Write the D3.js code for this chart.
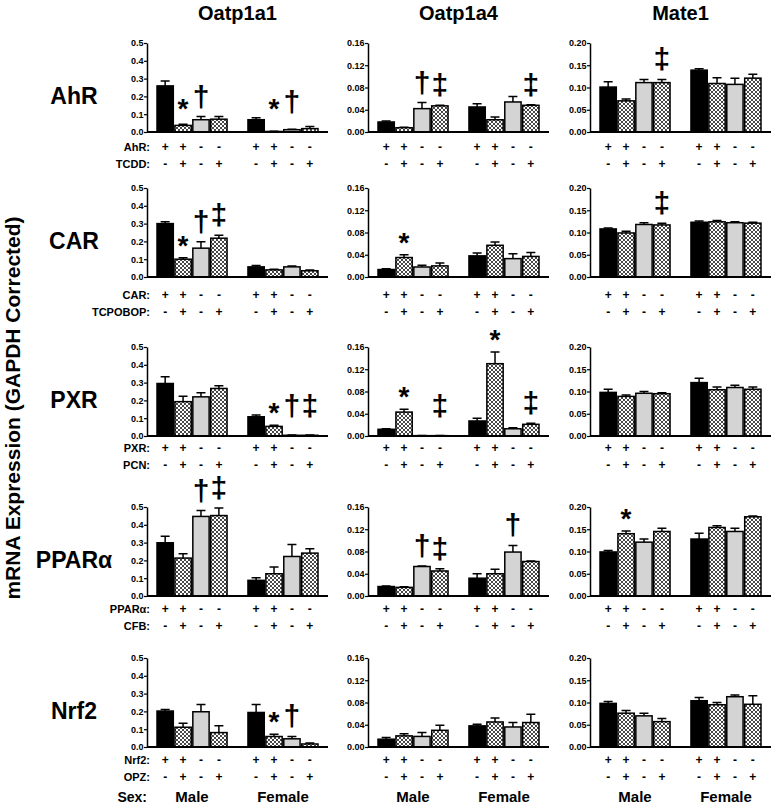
<!DOCTYPE html>
<html>
<head>
<meta charset="utf-8">
<script src="https://cdn.jsdelivr.net/npm/d3@7"></script>
<style>
  body { margin: 0; background: #fff; }
  text { font-family: "Liberation Sans", Arial, sans-serif; font-weight: bold; }
</style>
</head>
<body>
<svg id="chart" width="777" height="806"></svg>
<script>
// genes (columns) and receptors (rows)
const genes = ["Oatp1a1", "Oatp1a4", "Mate1"]
const receptors = ["AhR", "CAR", "PXR", "PPARα", "Nrf2"]
const ligands = ["TCDD", "TCPOBOP", "PCN", "CFB", "OPZ"]
const sexes = ["Male", "Female"]
const receptorSigns = ["+", "+", "-", "-"]
const ligandSigns = ["-", "+", "-", "+"]

// y axis max + tick values per gene
const yMax = [0.5, 0.16, 0.20]
const ticksOatp1a1 = [0, 0.1, 0.2, 0.3, 0.4, 0.5]
const ticksOatp1a4 = [0, 0.04, 0.08, 0.12, 0.16]
const ticksMate1 = [0, 0.05, 0.10, 0.15, 0.20]

// means, 8 per panel: male (+/-, +/+, -/-, -/+), female (same)
const ahrMeans = [
  [0.259, 0.037, 0.069, 0.072, 0.069, 0.003, 0.013, 0.019],
  [0.018, 0.0077, 0.042, 0.047, 0.045, 0.022, 0.054, 0.048],
  [0.101, 0.070, 0.111, 0.111, 0.139, 0.109, 0.107, 0.121]]
const ahrSem = [
  [0.028, 0.006, 0.018, 0.015, 0.011, 0.001, 0.002, 0.012],
  [0.002, 0.001, 0.011, 0.001, 0.006, 0.005, 0.010, 0.001],
  [0.012, 0.004, 0.007, 0.007, 0.003, 0.013, 0.014, 0.009]]
const carMeans = [
  [0.300, 0.100, 0.162, 0.218, 0.057, 0.040, 0.057, 0.035],
  [0.0134, 0.035, 0.018, 0.020, 0.038, 0.057, 0.033, 0.037],
  [0.108, 0.099, 0.118, 0.117, 0.123, 0.124, 0.122, 0.121]]
const carSem = [
  [0.010, 0.008, 0.036, 0.017, 0.008, 0.003, 0.005, 0.004],
  [0.0015, 0.005, 0.003, 0.005, 0.005, 0.006, 0.009, 0.007],
  [0.002, 0.004, 0.004, 0.004, 0.003, 0.003, 0.002, 0.002]]
const pxrMeans = [
  [0.295, 0.193, 0.220, 0.267, 0.108, 0.054, 0.004, 0.004],
  [0.012, 0.043, 0.0006, 0.0006, 0.027, 0.130, 0.013, 0.021],
  [0.098, 0.089, 0.096, 0.095, 0.120, 0.104, 0.109, 0.105]]
const pxrSem = [
  [0.038, 0.031, 0.023, 0.015, 0.010, 0.006, 0.001, 0.001],
  [0.001, 0.005, 0.0002, 0.0002, 0.005, 0.021, 0.002, 0.002],
  [0.007, 0.003, 0.004, 0.002, 0.010, 0.006, 0.005, 0.005]]
const pparMeans = [
  [0.299, 0.213, 0.447, 0.452, 0.088, 0.125, 0.222, 0.241],
  [0.017, 0.0155, 0.053, 0.045, 0.032, 0.040, 0.079, 0.062],
  [0.099, 0.140, 0.121, 0.145, 0.128, 0.154, 0.145, 0.178]]
const pparSem = [
  [0.037, 0.024, 0.033, 0.043, 0.015, 0.038, 0.068, 0.024],
  [0.001, 0.001, 0.001, 0.004, 0.008, 0.008, 0.012, 0.001],
  [0.003, 0.006, 0.007, 0.007, 0.013, 0.004, 0.007, 0.002]]
const nrf2Means = [
  [0.202, 0.111, 0.198, 0.081, 0.194, 0.059, 0.046, 0.017],
  [0.014, 0.020, 0.019, 0.030, 0.038, 0.045, 0.036, 0.044],
  [0.098, 0.076, 0.070, 0.057, 0.104, 0.095, 0.113, 0.096]]
const nrf2Sem = [
  [0.009, 0.022, 0.041, 0.039, 0.045, 0.013, 0.013, 0.005],
  [0.003, 0.004, 0.007, 0.009, 0.003, 0.007, 0.008, 0.015],
  [0.004, 0.006, 0.006, 0.007, 0.007, 0.005, 0.004, 0.019]]

// significance marks: [gene index, bar index, symbol]
const ahrMarks = [[0,1,"*"],[0,2,"†"],[0,5,"*"],[0,6,"†"],[1,2,"†"],[1,3,"‡"],[1,7,"‡"],[2,3,"‡"]]
const carMarks = [[0,1,"*"],[0,2,"†"],[0,3,"‡"],[1,1,"*"],[2,3,"‡"]]
const pxrMarks = [[0,5,"*"],[0,6,"†"],[0,7,"‡"],[1,1,"*"],[1,3,"‡"],[1,5,"*"],[1,7,"‡"]]
const pparMarks = [[0,2,"†"],[0,3,"‡"],[1,2,"†"],[1,3,"‡"],[1,6,"†"],[2,1,"*"]]
const nrf2Marks = [[0,5,"*"],[0,6,"†"]]

const allMeans = [ahrMeans, carMeans, pxrMeans, pparMeans, nrf2Means]
const allSem = [ahrSem, carSem, pxrSem, pparSem, nrf2Sem]
const allMarks = [ahrMarks, carMarks, pxrMarks, pparMarks, nrf2Marks]
const allTicks = [ticksOatp1a1, ticksOatp1a4, ticksMate1]

// layout
const colX = [147, 368, 590]
const rowBase = [132, 277, 436, 596, 747]
const signOff = [15, 18, 12, 13, 13]
const panelW = 181
const panelH = 89

const svg = d3.select("#chart")

// checker pattern for ligand-treated bars
const pat = svg.append("defs").append("pattern")
  .attr("id", "checks")
  .attr("patternUnits", "userSpaceOnUse")
  .attr("width", 4).attr("height", 4)
pat.append("rect").attr("width", 4).attr("height", 4).attr("fill", "#000")
pat.selectAll("circle").data([[2,2],[0,0],[4,0],[0,4],[4,4]]).enter()
  .append("circle").attr("cx", d => d[0]).attr("cy", d => d[1]).attr("r", 1.35).attr("fill", "#fff")

const fills = ["#000", "url(#checks)", "#d4d4d4", "url(#checks)"]

// group + bar scales (same for each panel)
const xGroup = d3.scaleBand().domain(sexes).range([0, panelW]).paddingInner(0.23).paddingOuter(0.11)
const xBar = d3.scaleBand().domain(d3.range(4)).range([0, xGroup.bandwidth()]).paddingInner(0.09)
const barX = i => xGroup(sexes[Math.floor(i / 4)]) + xBar(i % 4)

// titles
svg.selectAll(".title").data(genes).enter()
  .append("text")
  .attr("x", (d, i) => colX[i] + panelW / 2)
  .attr("y", 20)
  .attr("text-anchor", "middle")
  .attr("font-size", "20px")
  .text(d => d)

// y axis title
svg.append("text")
  .attr("transform", "translate(20,408) rotate(-90)")
  .attr("text-anchor", "middle")
  .attr("font-size", "21px")
  .text("mRNA Expression (GAPDH Corrected)")

receptors.forEach(function(rec, r) {
  var base = rowBase[r]

  // row label
  svg.append("text")
    .attr("x", 74).attr("y", base - 28)
    .attr("text-anchor", "middle")
    .attr("font-size", "23px")
    .text(rec)

  // treatment labels on the left
  svg.append("text")
    .attr("x", 150).attr("y", base + signOff[r] + 4)
    .attr("text-anchor", "end").attr("font-size", "11px")
    .text(rec + ":")
  svg.append("text")
    .attr("x", 150).attr("y", base + signOff[r] + 21)
    .attr("text-anchor", "end").attr("font-size", "11px")
    .text(ligands[r] + ":")

  genes.forEach(function(gene, c) {
    var x0 = colX[c]
    var y = d3.scaleLinear().domain([0, yMax[c]]).range([base, base - panelH])
    var g = svg.append("g").attr("transform", "translate(" + x0 + ",0)")
    var means = allMeans[r][c]
    var sems = allSem[r][c]

    // bars
    g.selectAll(".bar").data(means).enter()
      .append("rect")
      .attr("x", (d, i) => barX(i))
      .attr("y", d => y(d))
      .attr("width", xBar.bandwidth())
      .attr("height", d => base - y(d))
      .attr("fill", (d, i) => fills[i % 4])
      .attr("stroke", "#000")
      .attr("stroke-width", 1.5)

    // error bars (upper only)
    var cx = i => barX(i) + xBar.bandwidth() / 2
    g.selectAll(".err").data(means).enter()
      .append("path")
      .attr("d", (d, i) => "M" + cx(i) + "," + y(d) + "V" + y(d + sems[i]) +
                           "M" + (cx(i) - 4.5) + "," + y(d + sems[i]) + "H" + (cx(i) + 4.5))
      .attr("stroke", "#000").attr("stroke-width", 1.5).attr("fill", "none")

    // axis
    var fmt = c == 0 ? d3.format(".1f") : d3.format(".2f")
    var ax = g.append("g")
      .call(d3.axisLeft(y).tickValues(allTicks[c]).tickFormat(fmt).tickSize(3).tickSizeOuter(0))
    ax.select(".domain").attr("stroke-width", 1.5)
    ax.selectAll(".tick line").attr("stroke-width", 1.2)
    ax.selectAll("text").attr("font-size", "9px").attr("font-family", "Liberation Sans, Arial, sans-serif")
      .attr("font-weight", "bold").attr("x", -3.5)

    // baseline
    g.append("line")
      .attr("x1", 0).attr("x2", panelW)
      .attr("y1", base).attr("y2", base)
      .attr("stroke", "#000").attr("stroke-width", 2)

    // +/- signs
    g.selectAll(".s1").data(receptorSigns.concat(receptorSigns)).enter()
      .append("text")
      .attr("x", (d, i) => cx(i)).attr("y", base + signOff[r] + 4)
      .attr("text-anchor", "middle").attr("font-size", "12px")
      .text(d => d)
    g.selectAll(".s2").data(ligandSigns.concat(ligandSigns)).enter()
      .append("text")
      .attr("x", (d, i) => cx(i)).attr("y", base + signOff[r] + 21)
      .attr("text-anchor", "middle").attr("font-size", "12px")
      .text(d => d)

    // sex labels on last row
    if (r == receptors.length - 1) {
      g.selectAll(".sex").data(sexes).enter()
        .append("text")
        .attr("x", d => xGroup(d) + xGroup.bandwidth() / 2)
        .attr("y", base + signOff[r] + 42)
        .attr("text-anchor", "middle").attr("font-size", "15px")
        .text(d => d)
    }

    // significance marks
    allMarks[r].filter(m => m[0] == c).forEach(function(m) {
      var i = m[1]
      var top = y(means[i] + sems[i])
      if (m[2] == "*") {
        g.append("text")
          .attr("x", cx(i)).attr("y", Math.min(top - 3, base - 14))
          .attr("text-anchor", "middle").attr("font-size", "28px")
          .text("*")
      } else {
        g.append("text")
          .attr("x", cx(i)).attr("y", Math.min(top - 10, base - 20))
          .attr("text-anchor", "middle").attr("font-size", "30px")
          .attr("font-weight", "normal")
          .text(m[2])
      }
    })
  })
})

// "Sex:" label
svg.append("text")
  .attr("x", 147).attr("y", rowBase[4] + signOff[4] + 42)
  .attr("text-anchor", "end").attr("font-size", "14px")
  .text("Sex:")
</script>
</body>
</html>
